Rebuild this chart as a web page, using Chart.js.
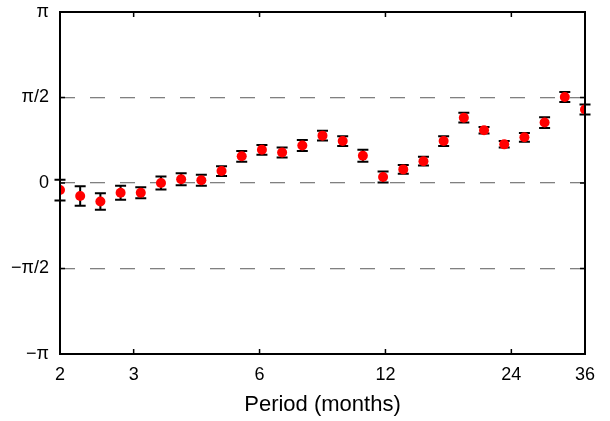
<!DOCTYPE html>
<html>
<head>
<meta charset="utf-8">
<script src="https://cdn.jsdelivr.net/npm/chart.js@4"></script>
<style>
  html, body { margin: 0; padding: 0; background: #fff; }
  #wrap { width: 610px; height: 421px; }
</style>
</head>
<body>
<div id="wrap"><canvas id="phaseChart" width="610" height="421"></canvas></div>
<script>
// periods (months), log spaced from 2 to 36
const periods = [2.000, 2.235, 2.498, 2.792, 3.120, 3.487, 3.897, 4.355, 4.867,
                 5.439, 6.079, 6.794, 7.593, 8.485, 9.483, 10.598, 11.844, 13.237,
                 14.793, 16.532, 18.476, 20.648, 23.076, 25.789, 28.821, 32.210, 36.000];
// phase (radians)
const phase = [-0.13, -0.24, -0.34, -0.18, -0.18, 0.00, 0.07, 0.05, 0.22,
               0.49, 0.61, 0.56, 0.69, 0.87, 0.77, 0.50, 0.11, 0.25,
               0.40, 0.77, 1.20, 0.97, 0.71, 0.84, 1.11, 1.58, 1.35];
// error half-width (radians)
const phaseErr = [0.19, 0.18, 0.15, 0.13, 0.10, 0.12, 0.11, 0.10, 0.09,
                  0.10, 0.09, 0.09, 0.10, 0.09, 0.09, 0.11, 0.10, 0.08,
                  0.08, 0.09, 0.09, 0.06, 0.06, 0.08, 0.10, 0.09, 0.09];
const xTicks = [2, 3, 6, 12, 24, 36];
const yTicks = [-Math.PI, -Math.PI / 2, 0, Math.PI / 2, Math.PI];
const yTickLabels = ["\u2212\u03c0", "\u2212\u03c0/2", "0", "\u03c0/2", "\u03c0"];

const points = periods.map((p, i) => ({ x: p, y: phase[i] }));

// error bars + box with inward ticks
const errorBars = {
    id: 'errorBars',
    beforeDatasetsDraw(chart) {
        const { ctx, scales: { x, y } } = chart;
        ctx.save();
        ctx.strokeStyle = '#000';
        ctx.lineWidth = 2;
        points.forEach((pt, i) => {
            const px = x.getPixelForValue(pt.x);
            const top = y.getPixelForValue(pt.y + phaseErr[i]);
            const bot = y.getPixelForValue(pt.y - phaseErr[i]);
            ctx.beginPath();
            ctx.moveTo(px, top); ctx.lineTo(px, bot);
            ctx.moveTo(px - 5.5, top); ctx.lineTo(px + 5.5, top);
            ctx.moveTo(px - 5.5, bot); ctx.lineTo(px + 5.5, bot);
            ctx.stroke();
        });
        ctx.restore();
    },
    afterDraw(chart) {
        const { ctx, chartArea: a, scales: { x, y } } = chart;
        ctx.save();
        ctx.strokeStyle = '#000';
        ctx.lineWidth = 1.5;
        ctx.beginPath();
        xTicks.slice(1, -1).forEach(v => {
            const px = x.getPixelForValue(v);
            ctx.moveTo(px, a.bottom); ctx.lineTo(px, a.bottom - 5);
            ctx.moveTo(px, a.top); ctx.lineTo(px, a.top + 5);
        });
        yTicks.slice(1, -1).forEach(v => {
            const py = y.getPixelForValue(v);
            ctx.moveTo(a.left, py); ctx.lineTo(a.left + 5, py);
            ctx.moveTo(a.right, py); ctx.lineTo(a.right - 5, py);
        });
        ctx.stroke();
        ctx.lineWidth = 2;
        ctx.strokeRect(a.left, a.top, a.right - a.left, a.bottom - a.top);
        ctx.restore();
    }
};

new Chart(document.getElementById('phaseChart'), {
    type: 'scatter',
    data: {
        datasets: [{
            data: points,
            pointRadius: 5,
            pointHoverRadius: 5,
            pointBackgroundColor: '#ff0000',
            pointBorderWidth: 0,
            showLine: false
        }]
    },
    options: {
        responsive: false,
        animation: false,
        layout: { padding: { top: 12, right: 25, bottom: 0, left: 0 } },
        plugins: {
            legend: { display: false },
            tooltip: { enabled: false }
        },
        scales: {
            x: {
                type: 'logarithmic',
                min: 2,
                max: 36,
                afterBuildTicks: s => { s.ticks = xTicks.map(v => ({ value: v })); },
                afterFit: s => { s.height = 67; s.paddingLeft = 0; s.paddingRight = 0; },
                grid: { display: false, drawTicks: false },
                border: { display: false },
                ticks: {
                    autoSkip: false,
                    maxRotation: 0,
                    padding: 10,
                    color: '#000',
                    font: { family: 'Liberation Sans, Arial', size: 18 },
                    callback: v => String(v)
                },
                title: {
                    display: true,
                    text: 'Period (months)',
                    color: '#000',
                    padding: { top: 0, bottom: 3 },
                    font: { family: 'Liberation Sans, Arial', size: 22 }
                }
            },
            y: {
                min: -Math.PI,
                max: Math.PI,
                afterBuildTicks: s => { s.ticks = yTicks.map(v => ({ value: v })); },
                afterFit: s => { s.width = 60; s.paddingTop = 0; s.paddingBottom = 0; },
                grid: {
                    drawTicks: false,
                    lineWidth: 1.3,
                    color: c => (c.tick && Math.abs(c.tick.value) > 3) ? 'rgba(0,0,0,0)' : '#808080'
                },
                border: { display: false, dash: [15, 15] },
                ticks: {
                    padding: 11,
                    color: '#000',
                    font: { family: 'Liberation Sans, Arial', size: 18 },
                    callback: (v, i) => yTickLabels[i]
                }
            }
        }
    },
    plugins: [errorBars]
});
</script>
</body>
</html>
